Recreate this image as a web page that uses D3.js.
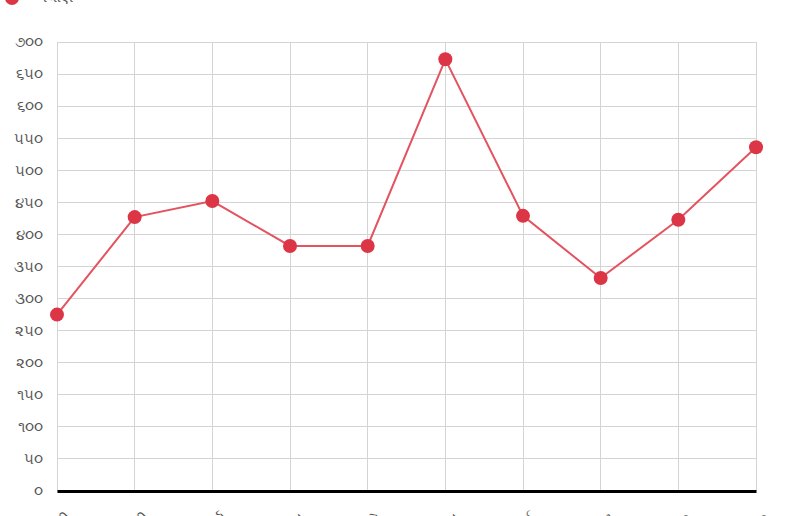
<!DOCTYPE html>
<html><head><meta charset="utf-8">
<script src="https://cdn.jsdelivr.net/npm/d3@7"></script>
<style>
html,body{margin:0;padding:0;background:#fff;}
svg{display:block;font-family:"Lohit Gujarati","Noto Sans Gujarati","Noto Sans",sans-serif;}
</style></head>
<body>
<svg id="chart" width="800" height="516"></svg>
<script>
const categories = ["જાન્યુઆરી","ફેબ્રુઆરી","માર્ચ","એપ્રિલ","મે","જૂન","જુલાઈ","ઑગસ્ટ","સપ્ટેમ્બર","ઑક્ટોબર"];
const salesValues = [275, 427, 452, 382, 382, 673, 429, 332, 423, 536];
const seriesName = "વેચાણ";
const yTickValues = [0,50,100,150,200,250,300,350,400,450,500,550,600,650,700];
const gujDigits = ["૦","૧","૨","૩","૪","૫","૬","૭","૮","૯"];
const toGuj = n => String(n).replace(/\d/g, d => gujDigits[+d]);

const svg = d3.select("#chart");
const m = {left:57, right:44, top:42, bottom:25};
const W = 800, H = 516;
const x = d3.scalePoint().domain(categories).range([m.left, W - m.right]);
const y = d3.scaleLinear().domain([0,700]).range([H - m.bottom, m.top]);

// grid
const g = svg.append("g");
g.selectAll(".hg").data(yTickValues).join("line")
  .attr("x1", m.left).attr("x2", W - m.right)
  .attr("y1", d => y(d)).attr("y2", d => y(d))
  .attr("stroke", "#d4d4d4").attr("stroke-width", 1).attr("shape-rendering","crispEdges");
g.selectAll(".vg").data(categories).join("line")
  .attr("x1", d => x(d)).attr("x2", d => x(d))
  .attr("y1", m.top).attr("y2", H - m.bottom)
  .attr("stroke", "#d4d4d4").attr("stroke-width", 1).attr("shape-rendering","crispEdges");

// y axis labels
const yAxis = d3.axisLeft(y).tickValues(yTickValues).tickSize(0).tickPadding(14).tickFormat(toGuj);
const ya = svg.append("g").attr("transform", `translate(${m.left},0)`).call(yAxis);
ya.select(".domain").remove();
ya.selectAll("text").attr("fill", "#555").attr("font-size", 15);

// x axis
const xAxis = d3.axisBottom(x).tickSize(0).tickPadding(26);
const xa = svg.append("g").attr("transform", `translate(0,${y(0)})`).call(xAxis);
xa.select(".domain").attr("stroke", "#000").attr("stroke-width", 3);
xa.selectAll("text").attr("fill", "#555").attr("font-size", 15)
  .attr("text-anchor", "end")
  .attr("transform", "rotate(-45)")
  .attr("dx", "-0.6em").attr("dy", "0.3em");

// line
const line = d3.line().x((d,i) => x(categories[i])).y(d => y(d));
svg.append("path").datum(salesValues)
  .attr("d", line).attr("fill", "none")
  .attr("stroke", "#e35360").attr("stroke-width", 2);
svg.selectAll(".pt").data(salesValues).join("circle")
  .attr("cx", (d,i) => x(categories[i])).attr("cy", d => y(d))
  .attr("r", 7).attr("fill", "#dc3545");

// legend
const lg = svg.append("g");
lg.append("circle").attr("cx", 12).attr("cy", -2).attr("r", 7).attr("fill", "#dc3545");
lg.append("text").attr("x", 38).attr("y", 2).attr("font-size", 15).attr("fill", "#555").text(seriesName);
</script>
</body></html>
